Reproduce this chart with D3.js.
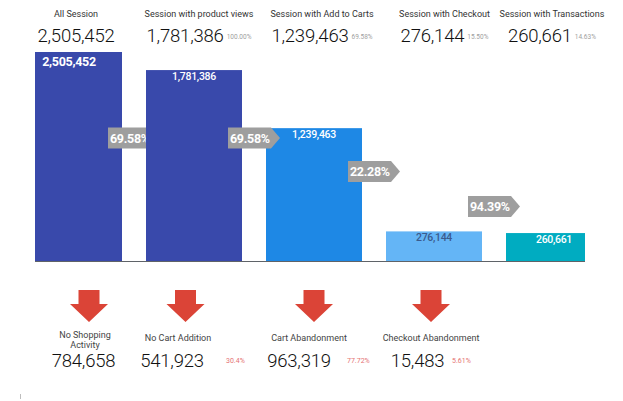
<!DOCTYPE html>
<html><head><meta charset="utf-8">
<script src="https://cdn.jsdelivr.net/npm/d3@7"></script>
<style>
body{margin:0;background:#fff}
svg{display:block;font-family:Roboto,"Liberation Sans",sans-serif}
</style>
</head><body>
<svg id="c" width="623" height="401"></svg>
<script>
// ---- data ----
const stages = ["All Session","Session with product views","Session with Add to Carts","Session with Checkout","Session with Transactions"];
const sessions = [2505452, 1781386, 1239463, 276144, 260661];
const sessionShare = [null, 100.00, 69.58, 15.50, 14.63];
const stepRates = [69.58, 69.58, 22.28, 94.39];
const dropLabels = [["No Shopping","Activity"],["No Cart Addition"],["Cart Abandonment"],["Checkout Abandonment"]];
const dropValues = [784658, 541923, 963319, 15483];
const dropShare = [null, 30.4, 77.72, 5.61];

// ---- layout ----
const W = 623, H = 401;
const plot = {left:35, right:585, top:52, bottom:261};
const headerX = [76, 199, 322, 444.5, 552];
const tagCY = [138, 138, 171.5, 206.5];
const dropArrowX = [89, 185.5, 314, 431];
const dropLabelX = [85, 178, 309, 431];
const dropNumX = [83.5, 172, 299, 417.5];
const dropPctX = [null, 226, 347, 452];

const svg = d3.select("#c");
const fmt = d3.format(",");
const pfmt = d3.format(".2f");

const x = d3.scaleBand().domain(stages).range([26, 602]).paddingInner(0.2).paddingOuter(0);
const y = d3.scaleLinear().domain([0, 1950000]).range([plot.bottom, plot.top]).clamp(true);
const color = d3.scaleOrdinal().domain(stages).range(["#3949ab","#3949ab","#1e88e5","#64b5f6","#00acc1"]);
const bw = x.bandwidth();

svg.append("defs").append("clipPath").attr("id","clip")
  .append("rect").attr("x",plot.left).attr("y",0).attr("width",plot.right-plot.left).attr("height",plot.bottom);

const g = svg.append("g").attr("clip-path","url(#clip)");

const data = stages.map((s,i)=>({stage:s, value:sessions[i], i}));

const bars = g.selectAll("g.bar").data(data).join("g").attr("class","bar");
bars.append("rect")
  .attr("x", d=>x(d.stage)).attr("y", d=>y(d.value))
  .attr("width", bw).attr("height", d=>plot.bottom - y(d.value))
  .attr("fill", d=>color(d.stage));
bars.append("text")
  .attr("x", d=>x(d.stage)+bw/2 - (d.value>y.domain()[1]?5:0))
  .attr("y", d=>y(d.value) + (d.value>y.domain()[1]?13.5:10))
  .attr("text-anchor","middle")
  .attr("font-size", d=>d.value>y.domain()[1]?12.5:10.5)
  .attr("font-weight", d=>d.value>y.domain()[1]?700:500)
  .attr("letter-spacing", -0.3)
  .attr("fill", d=>d3.hsl(color(d.stage)).l>0.6?"#3b5b8e":"#fff")
  .text(d=>fmt(d.value));

// step conversion tags
const steps = stepRates.map((r,i)=>({rate:r, i}));
const tags = g.selectAll("g.tag").data(steps).join("g").attr("class","tag");
tags.append("path")
  .attr("d", d=>{
    const l = x(stages[d.i]) + bw - 14, cy = tagCY[d.i];
    return `M${l},${cy-10.5}h43l9,10.5l-9,10.5h-43Z`;
  })
  .attr("fill","#9e9e9e");
tags.append("text")
  .attr("x", d=>x(stages[d.i]) + bw - 12)
  .attr("y", d=>tagCY[d.i]+4.5)
  .attr("font-size",12.5).attr("font-weight",700).attr("fill","#fff")
  .attr("letter-spacing",-0.3)
  .text(d=>pfmt(d.rate)+"%");
// stacking: first tag sits between bar 1 and bar 2
const barNodes = bars.nodes();
g.node().insertBefore(tags.nodes()[0], barNodes[1]);

// baseline
svg.append("line").attr("x1",plot.left).attr("x2",plot.right)
  .attr("y1",plot.bottom+0.5).attr("y2",plot.bottom+0.5)
  .attr("stroke","#5f6368").attr("stroke-width",1);

// header
const head = svg.selectAll("g.head").data(data).join("g").attr("class","head");
head.append("text").attr("x",(d)=>headerX[d.i]).attr("y",17)
  .attr("text-anchor","middle").attr("font-size",9).attr("fill","#333")
  .text(d=>d.stage);
head.each(function(d){
  const gg = d3.select(this);
  const num = gg.append("text").attr("y",41.5).attr("font-size",18.5).attr("font-weight",300).attr("fill","#111")
    .attr("letter-spacing",-0.2).text(fmt(d.value));
  let pct = null, total = num.node().getComputedTextLength();
  if (sessionShare[d.i] != null) {
    pct = gg.append("text").attr("y",39).attr("font-size",6.5).attr("fill","#a0a0a0")
      .text(pfmt(sessionShare[d.i])+"%");
    total += 3 + pct.node().getComputedTextLength();
  }
  const start = headerX[d.i] - total/2;
  num.attr("x", start);
  if (pct) pct.attr("x", start + num.node().getComputedTextLength() + 3);
});

// drop-offs
const drops = dropValues.map((v,i)=>({value:v, i}));
const dg = svg.selectAll("g.drop").data(drops).join("g").attr("class","drop");
dg.append("path")
  .attr("d", d=>{
    const cx = dropArrowX[d.i];
    return `M${cx-10.5},290h21v14h8.5l-19,18l-19,-18h8.5Z`;
  })
  .attr("fill","#db4437");
dg.each(function(d){
  const gg = d3.select(this);
  const lines = dropLabels[d.i];
  const y0 = lines.length>1 ? 337.5 : 340.5;
  lines.forEach((ln,k)=>{
    gg.append("text").attr("x",dropLabelX[d.i]).attr("y",y0+k*10)
      .attr("text-anchor","middle").attr("font-size",9).attr("fill","#444").text(ln);
  });
  gg.append("text").attr("x",dropNumX[d.i]).attr("y",367)
    .attr("text-anchor","middle").attr("font-size",18.5).attr("font-weight",300).attr("fill","#111")
    .attr("letter-spacing",-0.2).text(fmt(d.value));
  if (dropShare[d.i]!=null) {
    gg.append("text").attr("x",dropPctX[d.i]).attr("y",362.5)
      .attr("font-size",7).attr("fill","#e57373").text(dropShare[d.i]+"%");
  }
});

// small stray mark at lower-left
svg.append("rect").attr("x",20).attr("y",394).attr("width",1).attr("height",5).attr("fill","#bdbdbd");
</script>
</body></html>
